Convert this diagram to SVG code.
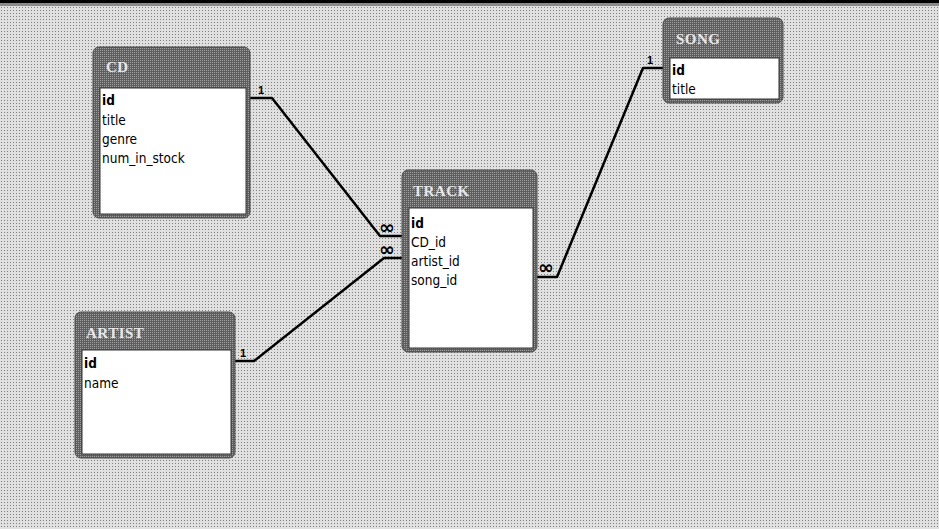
<svg xmlns="http://www.w3.org/2000/svg" width="939" height="529" viewBox="0 0 939 529">
<defs>
<pattern id="dither" width="3" height="3" patternUnits="userSpaceOnUse">
<rect width="3" height="3" fill="#e0e0e0"/>
<rect x="1" y="1" width="1" height="1" fill="#808080"/>
</pattern>
<pattern id="dark" width="2" height="2" patternUnits="userSpaceOnUse">
<rect width="2" height="2" fill="#5e5e5e"/>
<rect x="0" y="0" width="1" height="1" fill="#a0a0a0"/>
</pattern>
<style>
.frame{fill:url(#dark);stroke:#4a4a4a;stroke-width:1}
.body{fill:#ffffff;stroke:#333;stroke-width:1}
.title{font-family:"Liberation Serif",serif;font-size:15px;fill:#e8e8e8;font-weight:bold;letter-spacing:0.5px}
.fld{font-family:"DejaVu Sans Condensed","DejaVu Sans",sans-serif;font-size:13.5px;fill:#000}
.pk{font-weight:bold}
.conn{fill:none;stroke:#000;stroke-width:2.5;stroke-linejoin:round}
.one{font-family:"Liberation Sans",sans-serif;font-size:11px;font-weight:bold;fill:#000}
.many{font-family:"DejaVu Sans",sans-serif;font-size:19px;font-weight:bold;fill:#000}
</style>
</defs>
<rect width="939" height="529" fill="url(#dither)"/>
<rect x="0" y="0" width="939" height="3" fill="#000"/>
<rect x="0" y="3" width="939" height="3" fill="#8a8a8a"/>

<g id="connectors">
<polyline class="conn" points="250,98 272,98 380,236 402,236"/>
<polyline class="conn" points="235,361 254,361 384,258 402,258"/>
<polyline class="conn" points="537,277 557,277 643,68 663,68"/>
<text class="one" x="258" y="94">1</text>
<text class="one" x="240" y="357">1</text>
<text class="one" x="647" y="64">1</text>
<text class="many" x="379" y="234">∞</text>
<text class="many" x="379" y="256">∞</text>
<text class="many" x="538" y="274">∞</text>
</g>

<g id="CD">
<rect class="frame" x="93" y="47" width="157" height="171" rx="6"/>
<rect class="body" x="100" y="88" width="146" height="126"/>
<text class="title" x="106" y="72">CD</text>
<text class="fld pk" x="102" y="105">id</text>
<text class="fld" x="102" y="125">title</text>
<text class="fld" x="102" y="144">genre</text>
<text class="fld" x="102" y="163">num_in_stock</text>
</g>

<g id="TRACK">
<rect class="frame" x="402" y="170" width="135" height="182" rx="6"/>
<rect class="body" x="409" y="208" width="124" height="140"/>
<text class="title" x="413" y="196">TRACK</text>
<text class="fld pk" x="411" y="228">id</text>
<text class="fld" x="411" y="247">CD_id</text>
<text class="fld" x="411" y="266">artist_id</text>
<text class="fld" x="411" y="285">song_id</text>
</g>

<g id="SONG">
<rect class="frame" x="663" y="18" width="120" height="85" rx="6"/>
<rect class="body" x="670" y="58" width="109" height="41"/>
<text class="title" x="676" y="44">SONG</text>
<text class="fld pk" x="672" y="75">id</text>
<text class="fld" x="672" y="94">title</text>
</g>

<g id="ARTIST">
<rect class="frame" x="75" y="312" width="160" height="146" rx="6"/>
<rect class="body" x="82" y="350" width="149" height="104"/>
<text class="title" x="86" y="338">ARTIST</text>
<text class="fld pk" x="84" y="368">id</text>
<text class="fld" x="84" y="388">name</text>
</g>
</svg>
